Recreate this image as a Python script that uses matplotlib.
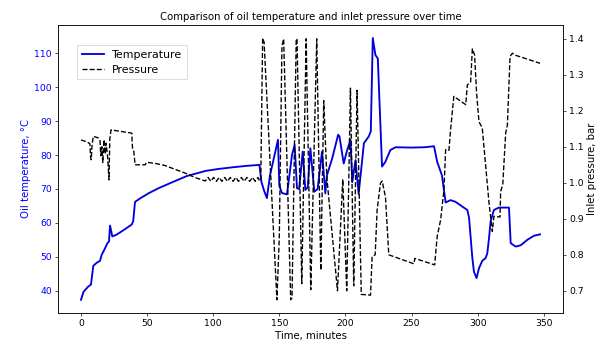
import matplotlib
matplotlib.use('Agg')
import matplotlib.pyplot as plt

# Oil temperature readings (minutes, deg C)
temp_time = [0, 2, 5.5, 7.6, 9.3, 11.8, 14.4, 15.6, 18.2, 20, 21.2, 22, 23.7, 26.9,
             32, 38.4, 39.5, 40.9, 44.7, 51, 58.6, 67.4, 80, 94, 104, 115, 125, 135,
             136.4, 138.5, 140.6, 143, 147, 149, 150, 152, 155.8, 159.6, 161.6, 163.4,
             165, 167.7, 169.7, 171.5, 173.5, 176.5, 179, 182.3, 184.8, 186, 190,
             194.5, 195.5, 198.7, 201, 203.8, 205.2, 207.6, 210, 212, 214, 217.7,
             219.2, 220.7, 222.7, 224.5, 227.7, 230.2, 234, 238, 250, 260, 267, 269.4,
             273, 275.8, 279.5, 283.3, 288.4, 292.2, 293.5, 296, 297.2, 299.2, 301,
             303.5, 306, 307.3, 308.6, 309.8, 312.3, 316, 323.7, 325, 328.8, 332.6,
             337.6, 342.6, 347.2]
temp_vals = [37.3, 39.7, 41.2, 41.8, 47.3, 48.2, 48.8, 50.5, 52.5, 54, 54.5, 59.2, 56, 56.5,
             57.8, 59.5, 60.5, 66.2, 67.2, 68.7, 70.2, 71.7, 73.8, 75.3, 75.9, 76.4, 76.8, 77.1,
             72.2, 69.5, 67.3, 74.1, 81, 84.5, 71, 68.8, 68.4, 80, 83, 70.2,
             70, 81, 69.7, 70.5, 82, 69.2, 70, 81, 68.7, 74, 79,
             86, 85.5, 77.5, 81, 84.5, 72, 78.5, 68.5, 76, 83.5, 85.5,
             87, 114.5, 109.5, 108.5, 76.6, 78, 81.5, 82.3, 82.2, 82.3, 82.6, 78,
             74, 66, 66.7, 66.2, 64.8, 63.8, 61.5, 49.6, 45.6, 43.7, 46.6,
             48.8, 49.6, 51, 55.5, 60.4, 63.8, 64.5, 64.5, 54, 53, 53.4,
             55, 56.2, 56.6]

# Inlet pressure readings (minutes, bar)
press_time = [0, 1.8, 5, 6.8, 7.3, 7.8, 8.3, 9.3, 13, 14.4, 15, 15.8, 16.5, 17.5, 18.3,
              19, 20.2, 21.2, 21.8, 22.7, 38.4, 39, 40, 40.9, 48.5, 49.7, 56, 63.6, 70,
              78.8, 86, 94, 96.1, 98.2, 100.3, 102.4, 104.5, 106.6, 108.7, 110.8, 112.9,
              115, 117.1, 119.2, 121.3, 123.4, 125.5, 127.6, 129.7, 131.8, 133.9, 135,
              136, 137.4, 138.5, 148.2, 150, 152, 153.3, 158.6, 159.6, 162.8, 163.4, 167,
              170.3, 173.8, 178.3, 181.4, 183.6, 186, 194, 198, 201, 203.8, 206.3, 208.8,
              212, 219, 220.2, 222.5, 224, 226.5, 227.8, 230.3, 232.8, 251.8, 252.5,
              267.5, 269.4, 272, 274.5, 275.8, 278.3, 279.5, 282, 291, 292.2, 294.7, 296,
              297.7, 299.2, 301, 303.5, 308.6, 311.1, 312.3, 316.9, 317.4, 319, 321.2,
              322.5, 324.5, 326.3, 328, 347.2]
press_vals = [1.119, 1.117, 1.113, 1.108, 1.07, 1.064, 1.10, 1.129, 1.125, 1.117, 1.075, 1.10, 1.056, 1.12, 1.08,
              1.11, 1.07, 1.008, 1.12, 1.147, 1.138, 1.095, 1.087, 1.05, 1.05, 1.057, 1.054, 1.048, 1.039,
              1.027, 1.015, 1.005, 1.015, 1.004, 1.015, 1.004, 1.015, 1.004, 1.015, 1.004, 1.015,
              1.004, 1.015, 1.004, 1.015, 1.004, 1.015, 1.004, 1.015, 1.004, 1.015, 1.005,
              1.012, 1.402, 1.39, 0.675, 0.85, 1.38, 1.40, 0.675, 0.68, 1.40, 1.40, 0.72,
              1.40, 0.703, 1.40, 0.757, 1.228, 1.013, 0.70, 1.01, 0.70, 1.263, 0.714, 1.257,
              0.69, 0.688, 0.795, 0.80, 0.925, 0.999, 1.005, 0.96, 0.80, 0.775, 0.79,
              0.772, 0.851, 0.897, 0.98, 1.092, 1.09, 1.147, 1.24, 1.217, 1.272, 1.28, 1.372,
              1.355, 1.249, 1.17, 1.152, 0.944, 0.865, 0.907, 0.905, 0.976, 0.995, 1.138,
              1.16, 1.351, 1.36, 1.355, 1.332]

fig, ax1 = plt.subplots(figsize=(10, 350 / 60.8), dpi=60.8)
fig.subplots_adjust(left=0.0954, right=0.926, bottom=0.106, top=0.9286)

l1, = ax1.plot(temp_time, temp_vals, color='#0000dd', lw=2.2, label='Temperature')
ax1.set_xlabel('Time, minutes', fontsize=12)
ax1.set_ylabel('Oil temperature, °C', color='blue', fontsize=12)
ax1.tick_params(axis='y', labelcolor='blue', labelsize=11)
ax1.tick_params(axis='x', labelsize=11)

ax2 = ax1.twinx()
l2, = ax2.plot(press_time, press_vals, 'k--', lw=1.6, label='Pressure')
ax2.set_ylabel('Inlet pressure, bar', fontsize=12)
ax2.tick_params(axis='y', labelsize=11)

ax2.legend(handles=[l1, l2], loc='upper left', bbox_to_anchor=(0.038, 0.93),
           borderaxespad=0, fancybox=False, fontsize=13)
ax1.set_title('Comparison of oil temperature and inlet pressure over time', fontsize=12)

fig.savefig('out.png', dpi=60.8)
